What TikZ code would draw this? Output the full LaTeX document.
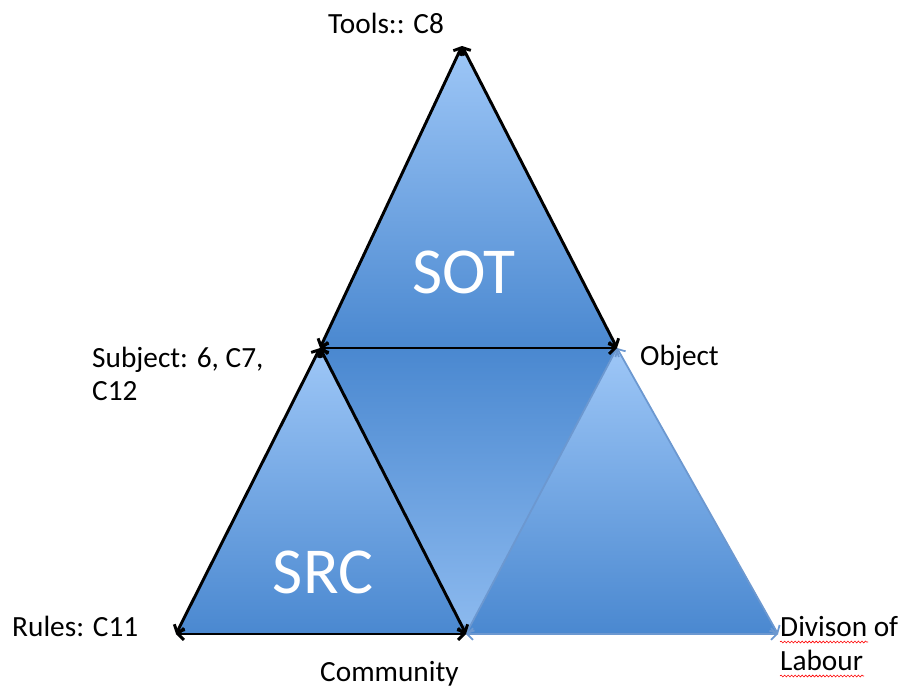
\documentclass[tikz,border=0pt]{standalone}
\usepackage{fontspec}
\setmainfont{Carlito}
\usetikzlibrary{arrows.meta,decorations.pathmorphing}
\definecolor{tlight}{RGB}{158,199,247}
\definecolor{tdark}{RGB}{74,136,208}
\definecolor{bline}{RGB}{108,152,208}

\begin{document}
\begin{tikzpicture}[
  x=0.03cm, y=-0.03cm,
  up/.style={top color=tlight, bottom color=tdark},
  down/.style={top color=tdark, bottom color=tlight!80!tdark},
  arr/.style={line width=2.5pt, {Straight Barb[length=5pt,width=10pt]}-{Straight Barb[length=5pt,width=10pt]}},
  barr/.style={line width=1.5pt, draw=bline, {Straight Barb[length=5pt,width=10pt]}-{Straight Barb[length=5pt,width=10pt]}},
  lbl/.style={font=\fontsize{25}{28}\selectfont, inner sep=0pt, anchor=base west},
  big/.style={text=white, font=\fontsize{56}{60}\selectfont, inner sep=0pt},
  spell/.style={red, line width=0.5pt, decorate, decoration={snake, amplitude=0.8pt, segment length=3pt}}
]
\useasboundingbox (0,0) rectangle (905,688);

\coordinate (tools) at (462,46);
\coordinate (subj) at (320,348);
\coordinate (obj) at (617,348);
\coordinate (rules) at (176,634);
\coordinate (comm) at (466,634);
\coordinate (div) at (778,634);

\fill [up] (tools) -- (subj) -- (obj) -- cycle;
\fill [up] (subj) -- (rules) -- (comm) -- cycle;
\fill [down] (subj) -- (obj) -- (comm) -- cycle;
\fill [up] (obj) -- (comm) -- (div) -- cycle;

\node [big] (sot) at (464,272) {SOT};
\node [big] (src) at (323,572) {SRC};

\draw [barr] (comm) -- (obj);
\draw [barr] (obj) -- (div);
\draw [barr] (comm) -- (div);

\draw [arr] (subj) -- (tools);
\draw [arr] (tools) -- (obj);
\draw [arr] (subj) -- (obj);
\draw [arr] (subj) -- (rules);
\draw [arr] (subj) -- (comm);
\draw [arr] (rules) -- (comm);

\node [lbl] (toolslbl) at (328,33) {Tools:: C8};
\node [lbl] (subjlbl) at (92,367) {Subject: 6, C7,};
\node [lbl] (subjlbl2) at (92,400) {C12};
\node [lbl] (objlbl) at (640,365) {Object};
\node [lbl] (ruleslbl) at (12,636) {Rules: C11};
\node [lbl] (commlbl) at (320,681) {Community};
\node [lbl] (divlbl) at (780,636) {Divison of};
\node [lbl] (divlbl2) at (780,670) {Labour};

\draw [spell] (780,642) -- (868,642);
\draw [spell] (780,676) -- (864,676);
\end{tikzpicture}
\end{document}
